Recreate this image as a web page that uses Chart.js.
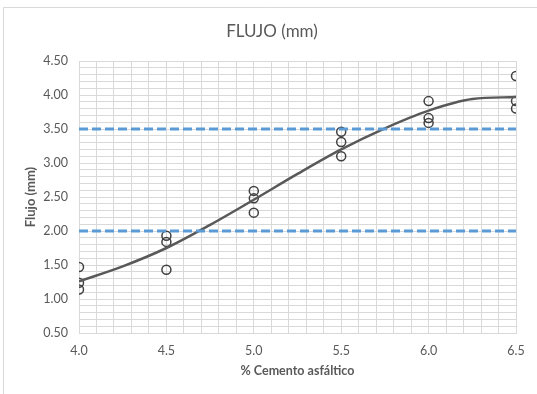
<!DOCTYPE html>
<html>
<head>
<meta charset="utf-8">
<script src="https://cdn.jsdelivr.net/npm/chart.js@4/dist/chart.umd.min.js"></script>
<style>
  html, body { margin: 0; padding: 0; background: #fff; }
  #wrap { width: 537px; height: 394px; }
</style>
</head>
<body>
<div id="wrap"><canvas id="chart-flujo"></canvas></div>
<script>
// % cemento asfáltico and the three flow readings taken at each content
const cemento = [4.0, 4.5, 5.0, 5.5, 6.0, 6.5];
const flujo1  = [1.47, 1.93, 2.59, 3.46, 3.91, 4.28];
const flujo2  = [1.24, 1.84, 2.48, 3.31, 3.66, 3.91];
const flujo3  = [1.14, 1.43, 2.27, 3.10, 3.59, 3.80];

// fitted trend curve
const tendX = [4.0, 4.25, 4.5, 4.75, 5.0, 5.25, 5.5, 5.75, 6.0, 6.25, 6.5];
const tendY = [1.26, 1.48, 1.75, 2.09, 2.46, 2.84, 3.20, 3.51, 3.77, 3.94, 3.97];

// spec limits (min / max flow)
const limInf = 2.00;
const limSup = 3.50;

const TITULO = 'FLUJO (mm)';
const TXT  = '#595959';
const GRID = '#d9d9d9';
const FONT = 'Lato';

const ensayos = [];
cemento.forEach((c, i) => {
  ensayos.push({ x: c, y: flujo1[i] }, { x: c, y: flujo2[i] }, { x: c, y: flujo3[i] });
});
const tendencia = tendX.map((x, i) => ({ x, y: tendY[i] }));
const xMin = cemento[0], xMax = cemento[cemento.length - 1];

const isHalf = v => Math.abs(v * 2 - Math.round(v * 2)) < 1e-6;

// white background, frame lines and the chart title
const marco = {
  id: 'marco',
  beforeDraw(chart) {
    const c = chart.ctx;
    c.save();
    c.fillStyle = '#fff';
    c.fillRect(0, 0, chart.width, chart.height);
    c.strokeStyle = GRID;
    c.lineWidth = 1;
    c.beginPath();
    c.moveTo(3.5, chart.height);
    c.lineTo(3.5, 7.5);
    c.lineTo(chart.width, 7.5);
    c.stroke();
    c.fillStyle = TXT;
    c.font = `17px ${FONT}`;
    c.textAlign = 'center';
    c.textBaseline = 'middle';
    c.fillText(TITULO, 272, 32);
    c.restore();
  }
};

const limite = (v) => ({
  type: 'line',
  data: [{ x: xMin, y: v }, { x: xMax, y: v }],
  borderColor: '#5b9bd5',
  borderWidth: 3,
  borderDash: [9, 4],
  pointRadius: 0,
  fill: false
});

new Chart(document.getElementById('chart-flujo'), {
  type: 'scatter',
  data: {
    datasets: [
      limite(limInf),
      limite(limSup),
      {
        type: 'line',
        data: tendencia,
        borderColor: '#595959',
        borderWidth: 2.5,
        pointRadius: 0,
        cubicInterpolationMode: 'monotone',
        fill: false
      },
      {
        data: ensayos,
        pointStyle: 'circle',
        pointRadius: 4.5,
        pointHoverRadius: 4.5,
        borderColor: '#404040',
        borderWidth: 1.5,
        backgroundColor: 'rgba(0,0,0,0)'
      }
    ]
  },
  plugins: [marco],
  options: {
    responsive: true,
    maintainAspectRatio: false,
    animation: false,
    layout: { padding: { left: 0, right: 21, top: 61, bottom: 0 } },
    plugins: {
      legend: { display: false },
      tooltip: { enabled: false },
      title: { display: false }
    },
    scales: {
      x: {
        type: 'linear',
        min: 4.0,
        max: 6.5,
        afterFit: s => { s.height = 61; },
        grid: { color: GRID, drawTicks: false },
        border: { color: GRID },
        ticks: {
          stepSize: 0.1,
          autoSkip: false,
          maxTicksLimit: 100,
          maxRotation: 0,
          padding: 10,
          color: TXT,
          font: { family: FONT, size: 12.5 },
          callback: v => isHalf(v) ? v.toFixed(1) : ''
        },
        title: {
          display: true,
          text: '% Cemento asfáltico',
          color: TXT,
          font: { family: FONT, size: 12.5, weight: 'bold' },
          padding: { top: 0, bottom: 15.5 }
        }
      },
      y: {
        min: 0.5,
        max: 4.5,
        afterFit: s => { s.width = 79; },
        grid: { color: GRID, drawTicks: false },
        border: { color: GRID },
        ticks: {
          stepSize: 0.1,
          autoSkip: false,
          maxTicksLimit: 100,
          padding: 11,
          color: TXT,
          font: { family: FONT, size: 12.5 },
          callback: v => isHalf(v) ? v.toFixed(2) : ''
        },
        title: {
          display: true,
          text: 'Flujo (mm)',
          color: TXT,
          font: { family: FONT, size: 13, weight: 'bold' },
          padding: { top: 23, bottom: 0 }
        }
      }
    }
  }
});
</script>
</body>
</html>
